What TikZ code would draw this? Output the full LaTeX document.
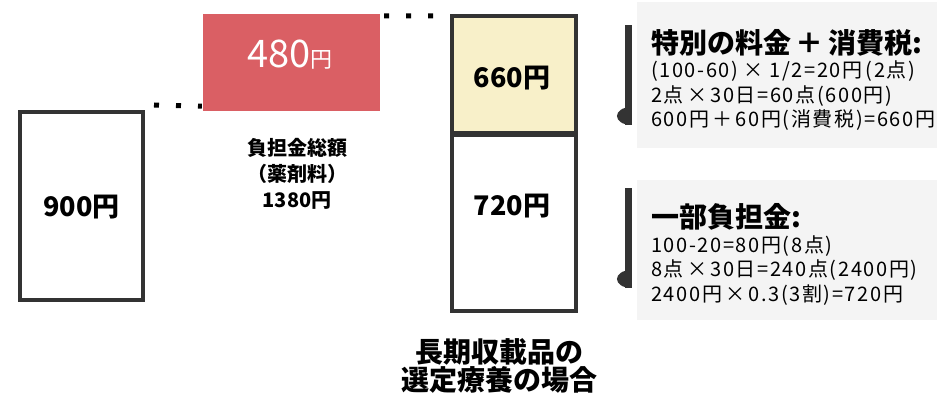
\documentclass[tikz,border=0pt]{standalone}
\usepackage{fontspec}
\setmainfont{Noto Sans CJK JP}
\newfontfamily\calcfont{Noto Sans CJK JP}[LetterSpace=8]
\begin{document}
\begin{tikzpicture}[x=1pt,y=-1pt,
  bar/.style={draw=edge,line width=4pt,minimum width=124pt,inner sep=0pt},
  dots/.style={draw=black,line width=5pt,dash pattern=on 5pt off 17pt},
  num/.style={font=\fontsize{27}{30}\selectfont\bfseries,inner sep=0pt},
  lbl/.style={font=\fontsize{20}{26}\selectfont\bfseries,align=center,inner sep=0pt},
  head/.style={font=\fontsize{28}{30}\selectfont\bfseries,anchor=west,inner sep=0pt},
  calc/.style={font=\calcfont\fontsize{20}{24.5}\selectfont,anchor=north west,align=left,inner sep=0pt},
  panel/.style={fill=panelgray,draw=none}]
\definecolor{edge}{HTML}{333333}
\definecolor{redbox}{HTML}{DA5F64}
\definecolor{beige}{HTML}{F8F0C9}
\definecolor{panelgray}{HTML}{F4F4F4}
\useasboundingbox (0,0) rectangle (937,398);
\fill[white] (0,0) rectangle (937,398);
% panels
\fill[panel] (637,2) rectangle (937,148);
\fill[panel] (637,180) rectangle (937,320);
% left box
\node[bar,minimum width=123pt,minimum height=188pt] (left) at (81.5,206) {};
\node[num] (t900) at (81.5,207) {900円};
% red box
\node[fill=redbox,minimum width=177pt,minimum height=97pt,inner sep=0pt] (red) at (291.5,62.5) {};
\node[text=white,inner sep=0pt] (t480) at (290,55) {\fontsize{38}{40}\selectfont 480\fontsize{22}{24}\selectfont 円};
\node[lbl] (total) at (297,174) {負担金総額\\（薬剤料）\\1380円};
% right stacked box
\node[bar,fill=beige,minimum width=124pt,minimum height=117pt] (top) at (514,74.5) {};
\node[bar,minimum width=124pt,minimum height=176pt] (bot) at (514,223) {};
\node[num] (t660) at (512,78) {660円};
\node[num] (t720) at (512,206) {720円};
% dotted connectors
\draw[dots] ([xshift=9pt,yshift=5pt]left.north east) -- ([xshift=-1pt,yshift=5pt]red.south west);
\draw[dots] ([xshift=4pt,yshift=-2pt]red.north east) -- ([xshift=-13pt,yshift=-2pt]top.north west);
% title
\node[font=\fontsize{28}{28}\selectfont\bfseries,align=center,inner sep=0pt] (title) at (499,366) {長期収載品の\\選定療養の場合};
% right side notes
\foreach \y in {25,188}{
  \fill[edge] (625,\y) rectangle (632,\y+100);
  \fill[edge] (632,\y+82) .. controls (612,\y+82) and (612,\y+100) .. (632,\y+100) -- cycle;
}
\node[head] (h1) at (651,43) {特別の料金\,＋\,消費税:};
\node[calc] (c1) at (651,61) {(100-60)\;×\;1/2=20円\,(2点)\\2点\,×\,30日=60点(600円)\\600円\,＋\,60円(消費税)=660円};
\node[head] (h2) at (651,217) {一部負担金:};
\node[calc] (c2) at (651,235) {100-20=80円(8点)\\8点\,×\,30日=240点(2400円)\\2400円\,×\,0.3(3割)=720円};
\end{tikzpicture}
\end{document}
